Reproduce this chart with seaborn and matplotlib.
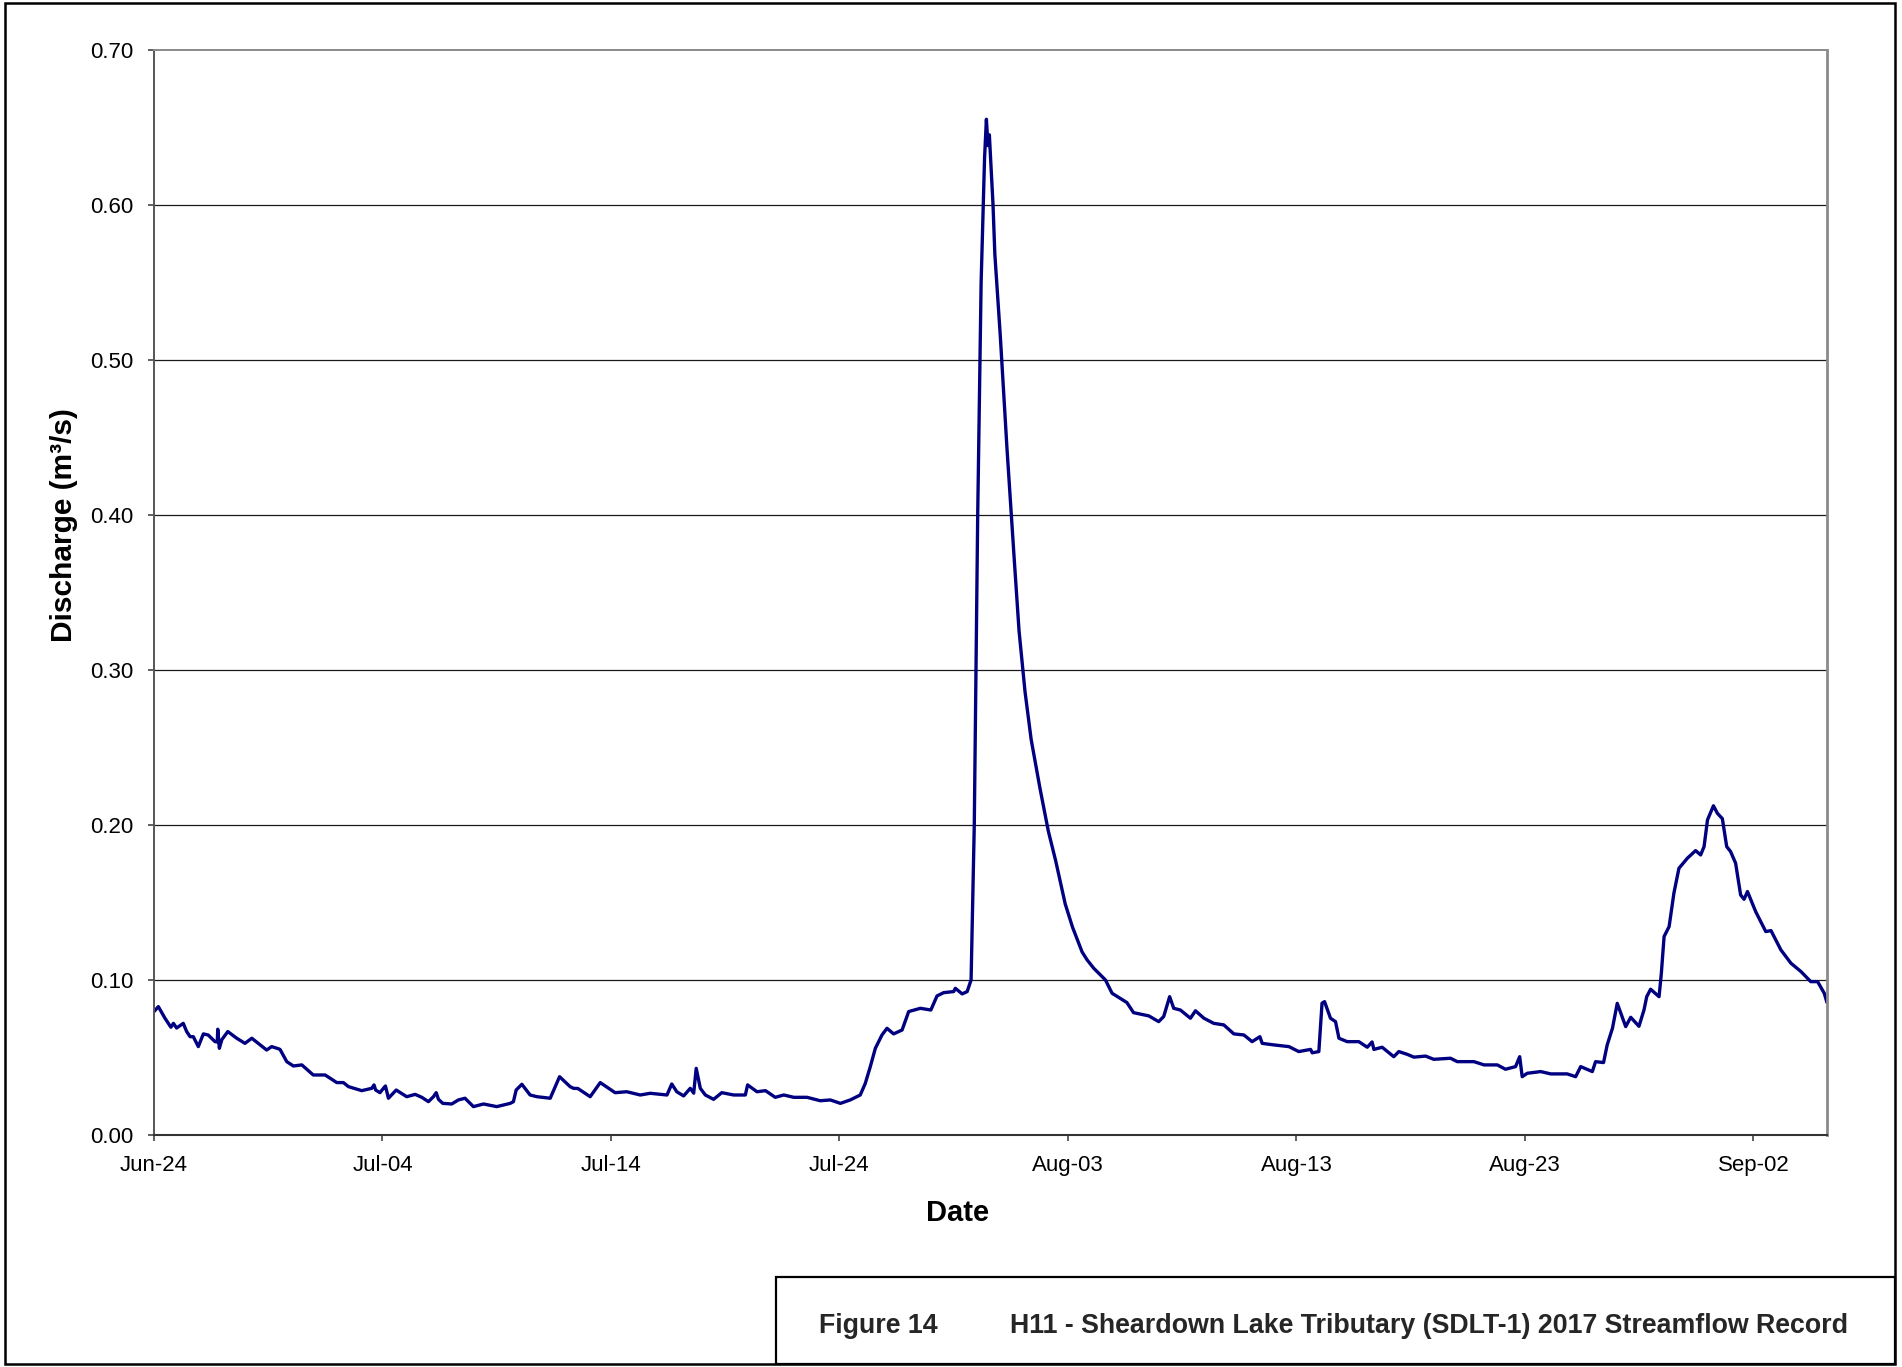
import numpy as np
import pandas as pd
import matplotlib
matplotlib.use("Agg")
import matplotlib.pyplot as plt
from matplotlib.patches import Rectangle
import seaborn as sns

# ---------------- data ----------------
start_date = "2017-06-24"
# elapsed days since Jun-24 00:00
day_offset = [
    0.00, 0.19, 0.48, 0.74, 0.85, 0.99, 1.28, 1.43, 1.58, 1.72, 1.94, 2.16, 2.37, 2.67, 2.77,
    2.79, 2.86, 2.97, 3.23, 3.62, 3.98, 4.28, 4.93, 5.15, 5.47, 5.52, 5.81, 6.10, 6.47, 6.97,
    7.49, 8.00, 8.29, 8.51, 9.09, 9.53, 9.63, 9.70, 9.89, 10.04, 10.13, 10.26, 10.60, 11.06,
    11.43, 11.72, 12.01, 12.23, 12.35, 12.45, 12.64, 13.03, 13.32, 13.61, 13.98, 14.42, 15.00,
    15.59, 15.73, 15.85, 16.10, 16.46, 16.76, 17.34, 17.75, 18.21, 18.36, 18.55, 19.09, 19.53,
    20.18, 20.69, 21.28, 21.72, 22.45, 22.66, 22.88, 23.18, 23.47, 23.62, 23.73, 23.91, 24.13,
    24.49, 24.85, 25.37, 25.88, 25.98, 26.39, 26.76, 27.19, 27.56, 28.00, 28.58, 29.16, 29.60,
    30.04, 30.47, 30.91, 31.13, 31.35, 31.57, 31.86, 32.08, 32.37, 32.74, 33.03, 33.54, 34.00,
    34.27, 34.56, 35.00, 35.07, 35.37, 35.59, 35.76, 35.90, 36.05, 36.20, 36.35, 36.43, 36.50,
    36.56, 36.72, 36.80, 37.04, 37.33, 37.65, 37.86, 38.12, 38.39, 38.77, 39.14, 39.46, 39.88,
    40.20, 40.62, 40.84, 41.13, 41.64, 41.93, 42.58, 42.87, 43.54, 43.97, 44.19, 44.45, 44.63,
    44.92, 45.36, 45.58, 45.95, 46.38, 46.82, 47.26, 47.70, 48.06, 48.40, 48.50, 49.01, 49.67,
    50.10, 50.62, 50.69, 50.98, 51.12, 51.23, 51.49, 51.71, 51.86, 52.22, 52.73, 53.10, 53.31,
    53.39, 53.75, 54.26, 54.48, 54.85, 55.14, 55.65, 56.01, 56.74, 57.04, 57.77, 58.21, 58.79,
    59.15, 59.59, 59.77, 59.88, 60.10, 60.69, 61.13, 61.85, 62.22, 62.44, 62.95, 63.09, 63.44,
    63.60, 63.83, 64.04, 64.41, 64.63, 64.99, 65.21, 65.33, 65.50, 65.87, 65.97, 66.09, 66.31,
    66.52, 66.74, 67.11, 67.47, 67.69, 67.84, 67.99, 68.25, 68.42, 68.64, 68.83, 69.00, 69.22,
    69.44, 69.59, 69.74, 70.10, 70.54, 70.77, 71.20, 71.64, 72.08, 72.51, 72.81, 73.10, 73.22,
]
discharge = [
    0.0796, 0.0828, 0.0753, 0.0695, 0.0720, 0.0690, 0.0720, 0.0667, 0.0634, 0.0634, 0.0570, 0.0652, 0.0645, 0.0602, 0.0600,
    0.0682, 0.0559, 0.0615, 0.0667, 0.0624, 0.0591, 0.0624, 0.0548, 0.0570, 0.0555, 0.0551, 0.0473, 0.0445, 0.0452, 0.0387,
    0.0387, 0.0338, 0.0338, 0.0312, 0.0286, 0.0301, 0.0323, 0.0290, 0.0273, 0.0301, 0.0316, 0.0237, 0.0290, 0.0247,
    0.0262, 0.0243, 0.0215, 0.0247, 0.0273, 0.0230, 0.0204, 0.0200, 0.0226, 0.0237, 0.0183, 0.0200, 0.0183,
    0.0204, 0.0215, 0.0290, 0.0327, 0.0258, 0.0247, 0.0237, 0.0376, 0.0312, 0.0301, 0.0300, 0.0247, 0.0338,
    0.0273, 0.0279, 0.0258, 0.0269, 0.0258, 0.0329, 0.0279, 0.0252, 0.0301, 0.0270, 0.0430, 0.0301, 0.0258,
    0.0230, 0.0273, 0.0258, 0.0258, 0.0323, 0.0279, 0.0286, 0.0243, 0.0258, 0.0243, 0.0243, 0.0221, 0.0226,
    0.0204, 0.0226, 0.0258, 0.0333, 0.0441, 0.0559, 0.0645, 0.0688, 0.0652, 0.0677, 0.0796, 0.0817, 0.0806,
    0.0897, 0.0918, 0.0925, 0.0946, 0.0910, 0.0925, 0.1000, 0.2000, 0.4000, 0.5500, 0.6300, 0.6550, 0.6380,
    0.6450, 0.6000, 0.5680, 0.5150, 0.4430, 0.3710, 0.3250, 0.2860, 0.2550, 0.2240, 0.1960, 0.1770, 0.1490,
    0.1340, 0.1180, 0.1129, 0.1075, 0.1000, 0.0914, 0.0854, 0.0789, 0.0768, 0.0731, 0.0764, 0.0892, 0.0817,
    0.0806, 0.0753, 0.0801, 0.0753, 0.0720, 0.0710, 0.0652, 0.0645, 0.0602, 0.0634, 0.0591, 0.0581, 0.0570,
    0.0538, 0.0552, 0.0530, 0.0538, 0.0850, 0.0860, 0.0753, 0.0731, 0.0624, 0.0602, 0.0602, 0.0566, 0.0600,
    0.0552, 0.0566, 0.0505, 0.0538, 0.0520, 0.0502, 0.0509, 0.0488, 0.0495, 0.0473, 0.0473, 0.0452, 0.0452,
    0.0424, 0.0441, 0.0505, 0.0376, 0.0398, 0.0409, 0.0394, 0.0394, 0.0376, 0.0441, 0.0409, 0.0473, 0.0467,
    0.0581, 0.0688, 0.0849, 0.0699, 0.0759, 0.0701, 0.0806, 0.0892, 0.0940, 0.0892, 0.1043, 0.1280, 0.1344,
    0.1560, 0.1720, 0.1785, 0.1834, 0.1806, 0.1860, 0.2032, 0.2123, 0.2075, 0.2040, 0.1860, 0.1828, 0.1753,
    0.1548, 0.1520, 0.1570, 0.1440, 0.1312, 0.1318, 0.1194, 0.1108, 0.1054, 0.0989, 0.0989, 0.0914, 0.0854,
]
tick_dates = ["2017-06-24", "2017-07-04", "2017-07-14", "2017-07-24",
              "2017-08-03", "2017-08-13", "2017-08-23", "2017-09-02"]
tick_labels = ["Jun-24", "Jul-04", "Jul-14", "Jul-24", "Aug-03", "Aug-13", "Aug-23", "Sep-02"]
y_ticks = [0.0, 0.1, 0.2, 0.3, 0.4, 0.5, 0.6, 0.7]
y_tick_labels = ["0.00", "0.10", "0.20", "0.30", "0.40", "0.50", "0.60", "0.70"]
x_end_days = 73.22

df = pd.DataFrame({
    "Date": pd.Timestamp(start_date) + pd.to_timedelta(day_offset, unit="D"),
    "Discharge": discharge,
})

# ---------------- style ----------------
sns.set_theme(style="white")
plt.rcParams["font.family"] = ["Liberation Sans", "DejaVu Sans"]

W, H = 1902, 1367
fig = plt.figure(figsize=(W / 100, H / 100), dpi=100)
ax = fig.add_axes([154 / W, (H - 1135) / H, (1827 - 154) / W, (1135 - 49.5) / H])

sns.lineplot(data=df, x="Date", y="Discharge", ax=ax, color="#000080",
             linewidth=2.4, estimator=None, sort=False)

x0 = pd.Timestamp(start_date)
ax.set_xlim(x0, x0 + pd.Timedelta(days=x_end_days))
ax.set_ylim(0, 0.7)

ax.set_yticks(y_ticks)
ax.set_yticklabels(y_tick_labels)
ax.set_xticks(pd.to_datetime(tick_dates))
ax.set_xticklabels(tick_labels)

for yv in y_ticks[1:-1]:
    ax.axhline(yv, color="#1a1a1a", linewidth=0.9, zorder=0.5)

ax.tick_params(axis="both", which="major", direction="out", length=4.5, width=1.2,
               color="#444444", labelsize=16, labelcolor="black", pad=10,
               bottom=True, left=True)

ax.spines["top"].set_color("#8a8a8a")
ax.spines["top"].set_linewidth(1.4)
ax.spines["right"].set_color("#8a8a8a")
ax.spines["right"].set_linewidth(2.0)
ax.spines["left"].set_color("#555555")
ax.spines["left"].set_linewidth(1.4)
ax.spines["bottom"].set_color("#333333")
ax.spines["bottom"].set_linewidth(1.5)

ax.set_xlabel("Date", fontsize=21, fontweight="bold", color="black")
ax.xaxis.set_label_coords((958 - 154) / 1673, (1135 - 1199) / 1085.5)
ax.set_ylabel("Discharge (m³/s)", fontsize=21.5, fontweight="bold", color="black")
ax.yaxis.set_label_coords((78 - 154) / 1673, 0.562)

# outer frame and title box
fig.patches.append(Rectangle((5 / W, 3 / H), (1895 - 5) / W, (1364 - 3) / H,
                             transform=fig.transFigure, fill=False,
                             edgecolor="black", linewidth=1.8))
fig.patches.append(Rectangle((776 / W, 3 / H), (1895 - 776) / W, (1364 - 1277) / H,
                             transform=fig.transFigure, fill=False,
                             edgecolor="black", linewidth=1.6))
fig.text(819 / W, (H - 1333) / H, "Figure 14", fontsize=19.3, fontweight="bold",
         ha="left", va="baseline")
fig.text(1010 / W, (H - 1333) / H,
         "H11 - Sheardown Lake Tributary (SDLT-1) 2017 Streamflow Record",
         fontsize=19.3, fontweight="bold", ha="left", va="baseline")

fig.savefig("out.png", dpi=100, facecolor="white")
